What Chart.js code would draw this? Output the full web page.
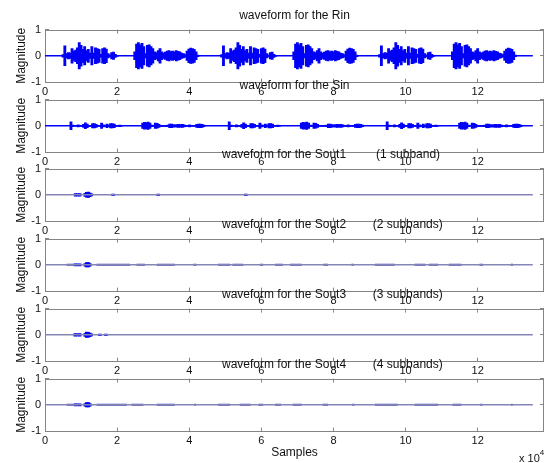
<!DOCTYPE html>
<html lang="en">
<head>
    <meta charset="UTF-8">
    <title>Waveforms</title>
    <script src="https://cdn.jsdelivr.net/npm/chart.js"></script>
    <style>
        body {
            margin: 0;
            background: #ffffff;
            font-family: "Liberation Sans", Arial, sans-serif;
        }
        #fig {
            position: relative;
            width: 555px;
            height: 463px;
            overflow: hidden;
        }
        canvas {
            position: absolute;
            left: 0;
        }
        .ttl {
            position: absolute;
            font-size: 12px;
            line-height: 15px;
            height: 15px;
            color: #111;
            white-space: pre;
            z-index: 10;
        }
        #expo {
            position: absolute;
            left: 519px;
            top: 448px;
            font-size: 11px;
            line-height: 13px;
            color: #111;
            z-index: 10;
        }
        #expo sup {
            font-size: 8px;
            position: relative;
            top: -2px;
        }
    </style>
</head>
<body>
<div id="fig"></div>
<script>
    // axis values are in units of 1e4 samples (shown as "x 10^4")
    const xTickValues = [0, 2, 4, 6, 8, 10, 12];
    const yTickValues = [-1, 0, 1];
    const xMax = 13.84;
    const signalEnd = 13.53;

    const subplotTitles = [
        "waveform for the Rin",
        "waveform for the Sin",
        "waveform for the Sout1         (1 subband)",
        "waveform for the Sout2        (2 subbands)",
        "waveform for the Sout3        (3 subbands)",
        "waveform for the Sout4        (4 subbands)"
    ];

    // envelope half-heights, one value every 0.05 (x1e4 samples)
    const phraseStep = 0.05;
    const rinPhraseA = [0.05, 0.38, 0.08, 0.12, 0.1, 0.28, 0.18, 0.22, 0.3, 0.5, 0.4, 0.25, 0.35, 0.2, 0.25, 0.1,
        0.35, 0.1, 0.3, 0.28, 0.25, 0.06, 0.28, 0.3, 0.26, 0.08, 0.04, 0.12, 0.14, 0.06, 0.02];
    const rinPhraseB = [0.15, 0.45, 0.5, 0.42, 0.48, 0.35, 0.08, 0.4, 0.42, 0.35, 0.28, 0.15, 0.12, 0.2, 0.28, 0.15,
        0.1, 0.14, 0.18, 0.2, 0.16, 0.18, 0.15, 0.2, 0.17, 0.15, 0.1, 0.08, 0.05, 0.18, 0.26, 0.29, 0.28, 0.25, 0.15, 0.03];
    const rinStartsA = [0.5, 4.9, 9.28];
    const rinStartsB = [2.49, 6.9, 11.3];

    const sinPhraseA = [0.15, 0.03, 0.01, 0.01, 0.04, 0.02, 0.02, 0.06, 0.11, 0.07, 0.02, 0.02, 0.08, 0.08, 0.06,
        0.02, 0.02, 0.1, 0.04, 0.02, 0.07, 0.03, 0.08, 0.08, 0.07, 0.02, 0.01, 0.03, 0.01];
    const sinPhraseB = [0.1, 0.13, 0.12, 0.14, 0.1, 0.03, 0.02, 0.1, 0.09, 0.06, 0.02, 0.02, 0.02, 0.02, 0.03, 0.07,
        0.07, 0.05, 0.04, 0.05, 0.06, 0.05, 0.06, 0.04, 0.02, 0.02, 0.04, 0.02, 0.01, 0.02, 0.06, 0.07, 0.07, 0.06, 0.03];
    const sinStartsA = [0.72, 5.11, 9.49];
    const sinStartsB = [2.71, 7.11, 11.5];

    // residual echo: [position, half-height]
    const sout1Dots = [[0.85, 0.05], [0.9, 0.04], [0.96, 0.05], [1.12, 0.06], [1.16, 0.09], [1.2, 0.1],
        [1.24, 0.07], [1.28, 0.04], [1.89, 0.03], [3.14, 0.03], [5.57, 0.03]];
    const sout2Dots = [[0.85, 0.04], [0.9, 0.03], [0.96, 0.04], [1.12, 0.05], [1.16, 0.08], [1.2, 0.08], [1.24, 0.05]];
    const sout3Dots = [[0.84, 0.05], [0.9, 0.04], [0.96, 0.05], [1.12, 0.06], [1.16, 0.1], [1.2, 0.09],
        [1.24, 0.07], [1.28, 0.04], [1.52, 0.03], [1.69, 0.03]];
    const sout4Dots = [[0.85, 0.04], [0.9, 0.03], [0.96, 0.04], [1.12, 0.05], [1.16, 0.08], [1.2, 0.08], [1.24, 0.05]];

    // low-level residual stretches: [start, end]
    const sout2Segs = [[0.6, 0.88], [1.43, 2.36], [2.54, 2.77], [3.1, 3.6], [4.11, 4.2], [4.8, 5.13], [5.2, 5.5],
        [5.96, 6.05], [6.38, 6.6], [6.8, 7.12], [7.72, 7.85], [8.5, 8.56], [9.15, 9.7], [10.25, 10.55],
        [10.65, 10.9], [11.2, 11.55], [12.05, 12.15], [12.92, 12.98]];
    const sout4Segs = [[0.6, 0.88], [1.43, 2.27], [2.4, 2.73], [3.1, 3.6], [4.14, 4.19], [4.8, 5.13], [5.4, 5.7],
        [5.92, 6.05], [6.38, 6.55], [6.87, 7.12], [7.7, 7.85], [8.52, 8.58], [9.15, 9.78], [10.25, 10.9],
        [11.3, 11.55], [12.07, 12.13], [12.93, 12.97]];

    const plotTops = [29, 99, 168, 238, 308, 378];
    const fontFamily = '"Liberation Sans", Arial, sans-serif';

    function phraseBars(amps, starts) {
        const pts = [];
        starts.forEach(s => amps.forEach((a, i) => pts.push({x: s + i * phraseStep, y: [-a, a]})));
        return pts;
    }

    function dotBars(dots) {
        return dots.map(d => ({x: d[0], y: [-d[1], d[1]]}));
    }

    function segPoints(segs) {
        const pts = [];
        segs.forEach(s => {
            pts.push({x: s[0], y: 0}, {x: s[1], y: 0}, {x: s[1], y: null});
        });
        return pts;
    }

    // MATLAB style box around the plot area
    const framePlugin = {
        id: "frame",
        beforeDatasetsDraw(chart) {
            const a = chart.chartArea;
            const ctx = chart.ctx;
            ctx.save();
            ctx.strokeStyle = "#858585";
            ctx.lineWidth = 1;
            ctx.strokeRect(Math.round(a.left) + 0.5, Math.round(a.top) + 0.5,
                Math.round(a.right - a.left) - 1, Math.round(a.bottom - a.top));
            ctx.restore();
        }
    };

    const subplots = [
        {bars: phraseBars(rinPhraseA, rinStartsA).concat(phraseBars(rinPhraseB, rinStartsB)), base: "#0000ff", w: 2.2},
        {bars: phraseBars(sinPhraseA, sinStartsA).concat(phraseBars(sinPhraseB, sinStartsB)), base: "#0000ff", w: 2.2},
        {bars: dotBars(sout1Dots), base: "#8585b5", w: 3},
        {bars: dotBars(sout2Dots), segs: segPoints(sout2Segs), base: "#8585b5", w: 3},
        {bars: dotBars(sout3Dots), base: "#8585b5", w: 3},
        {bars: dotBars(sout4Dots), segs: segPoints(sout4Segs), base: "#8585b5", w: 3}
    ];

    const fig = document.getElementById("fig");

    subplots.forEach((sp, i) => {
        const last = i === subplots.length - 1;
        const xAxisH = last ? 32 : 20;
        const canvas = document.createElement("canvas");
        canvas.width = 555;
        canvas.height = 10 + 53 + xAxisH;
        canvas.style.top = (plotTops[i] - 10) + "px";
        fig.appendChild(canvas);

        const title = document.createElement("div");
        title.className = "ttl";
        title.textContent = subplotTitles[i];
        title.style.top = (plotTops[i] - 21) + "px";
        if (i < 2) {
            title.style.left = "45px";
            title.style.width = "499px";
            title.style.textAlign = "center";
        } else {
            title.style.left = "222px";
        }
        fig.appendChild(title);

        const datasets = [
            {
                type: "line",
                data: [{x: 0, y: 0}, {x: signalEnd, y: 0}],
                borderColor: sp.base,
                borderWidth: 1.5,
                pointRadius: 0
            }
        ];
        if (sp.segs) {
            datasets.push({
                type: "line",
                data: sp.segs,
                borderColor: "#3c3cb8",
                borderWidth: 2,
                pointRadius: 0,
                spanGaps: false
            });
        }
        datasets.push({
            type: "bar",
            data: sp.bars,
            backgroundColor: "#0000f5",
            barThickness: sp.w,
            grouped: false
        });

        new Chart(canvas.getContext("2d"), {
            type: "line",
            data: {datasets: datasets},
            plugins: [framePlugin],
            options: {
                responsive: false,
                animation: false,
                devicePixelRatio: 1,
                layout: {padding: {top: 10, right: 11, bottom: 0, left: 0}},
                plugins: {legend: {display: false}, tooltip: {enabled: false}, title: {display: false}},
                scales: {
                    x: {
                        type: "linear",
                        min: 0,
                        max: xMax,
                        offset: false,
                        afterBuildTicks: s => { s.ticks = xTickValues.map(v => ({value: v})); },
                        afterFit: s => { s.height = xAxisH; },
                        ticks: {
                            color: "#111",
                            font: {family: fontFamily, size: 11},
                            padding: 3,
                            maxRotation: 0,
                            autoSkip: false
                        },
                        grid: {drawTicks: false, color: "#858585", lineWidth: 1, offset: false},
                        border: {display: false, dash: [4, 45]},
                        title: {
                            display: last,
                            text: "Samples",
                            color: "#111",
                            font: {family: fontFamily, size: 12},
                            padding: {top: 0, bottom: 3}
                        }
                    },
                    y: {
                        min: -1,
                        max: 1,
                        afterBuildTicks: s => { s.ticks = yTickValues.map(v => ({value: v})); },
                        afterFit: s => { s.width = 45; },
                        ticks: {
                            color: "#111",
                            font: {family: fontFamily, size: 11},
                            padding: 4
                        },
                        grid: {drawTicks: false, color: "#858585", lineWidth: 1},
                        border: {display: false, dash: [4, 491]},
                        title: {
                            display: true,
                            text: "Magnitude",
                            color: "#111",
                            font: {family: fontFamily, size: 12},
                            padding: {top: 14, bottom: 0}
                        }
                    }
                }
            }
        });
    });

    const expo = document.createElement("div");
    expo.id = "expo";
    expo.innerHTML = "x 10<sup>4</sup>";
    fig.appendChild(expo);
</script>
</body>
</html>
